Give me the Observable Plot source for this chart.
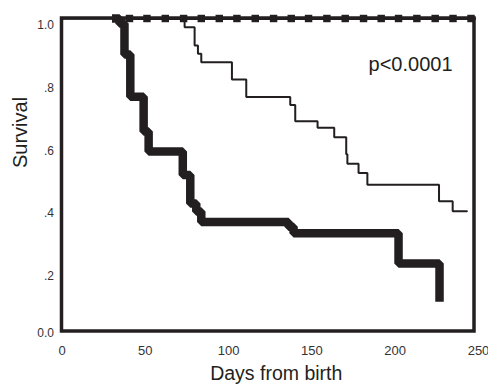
<!DOCTYPE html>
<html><head><meta charset="utf-8">
<script src="https://cdn.jsdelivr.net/npm/d3@7"></script>
<script src="https://cdn.jsdelivr.net/npm/@observablehq/plot@0.6"></script>
<style>body{margin:0;background:#fff;}</style>
</head><body><div id="chart"></div>
<script>
// Tick values
const xTicks = [0, 50, 100, 150, 200, 250];
const yTicks = [0.2, 0.4, 0.6, 0.8, 1.0];
const yTickZero = [0];
const frameEndDay = 247.6;

// Thick curve (step-after: day at which survival becomes value)
const thickDays = [30, 34.5, 37.5, 41, 49, 52, 72.5, 77, 80.6, 83.6, 136, 139, 202, 226.6];
const thickSurv = [1.0, 0.984, 0.885, 0.75, 0.639, 0.575, 0.50, 0.409, 0.383, 0.35, 0.335, 0.314, 0.217, 0.095];

// Thin curve
const thinDays = [0, 73.6, 79.6, 81.6, 83.6, 102, 110.6, 137, 140, 153.4, 163.4, 170.6, 171.3, 178, 183.3, 226.3, 234.5, 243];
const thinSurv = [1, 0.972, 0.914, 0.887, 0.860, 0.805, 0.749, 0.724, 0.672, 0.651, 0.621, 0.566, 0.536, 0.506, 0.469, 0.416, 0.384, 0.384];

// Flat curve at 1.0 with censor squares
const flatDays = [40.5, 247.6];
const flatSurv = [1, 1];
const censorDays = [40.5, 51, 62, 73, 83.6, 94.4, 105, 116, 127, 137.6, 148, 159, 170, 181, 191.6, 202, 213, 224, 234.7, 245.5];

// Annotation
const pLabel = ["p<0.0001"];
const pDay = [209.2];
const pSurv = [0.832];

const ink = "#231f20";
const thick = thickDays.map((d, i) => ({day: d, s: thickSurv[i]}));
const thin = thinDays.map((d, i) => ({day: d, s: thinSurv[i]}));
const flat = flatDays.map((d, i) => ({day: d, s: flatSurv[i]}));
const censor = censorDays.map(d => ({day: d, s: 1}));
const ann = pLabel.map((t, i) => ({t, day: pDay[i], s: pSurv[i]}));
const fmt = d => d === 0 ? "0.0" : d === 1 ? "1.0" : d3.format(".1f")(d).replace(/^0/, "");

const chart = Plot.plot({
  width: 488, height: 384,
  marginLeft: 61.5, marginRight: 10, marginTop: 18, marginBottom: 53,
  x: {domain: [0, 250]},
  y: {domain: [0, 1]},
  style: {fontFamily: "'Liberation Sans', Arial, sans-serif", background: "white", color: ink},
  marks: [
    Plot.axisX({ticks: xTicks, tickSize: 0, tickPadding: 14, fontSize: 13, label: null, fill: "#333"}),
    Plot.axisY({ticks: yTicks, tickSize: 0, tickPadding: 8, fontSize: 12, dy: 7, tickFormat: fmt, label: null, fill: "#333"}),
    Plot.axisY({ticks: yTickZero, tickSize: 0, tickPadding: 8, fontSize: 12, dy: 1.5, tickFormat: fmt, label: null, fill: "#333"}),
    Plot.text(["Survival"], {frameAnchor: "left", rotate: -90, dx: -34.8, dy: -7, lineAnchor: "bottom", fontSize: 20, fill: ink}),
    Plot.text(["Days from birth"], {frameAnchor: "bottom", dx: 6, dy: 48.3, lineAnchor: "bottom", fontSize: 19.5, fill: ink}),
    Plot.rect([{x1: 0, x2: frameEndDay, y1: 0, y2: 1}], {x1: "x1", x2: "x2", y1: "y1", y2: "y2", fill: "none", stroke: ink, strokeWidth: 3.5}),
    Plot.line(flat, {x: "day", y: "s", stroke: ink, strokeWidth: 3}),
    Plot.dot(censor, {x: "day", y: "s", symbol: "square", r: 4.2, fill: ink, stroke: "none"}),
    Plot.line(thin, {x: "day", y: "s", curve: "step-after", stroke: ink, strokeWidth: 2, strokeLinejoin: "miter"}),
    Plot.line(thick, {x: "day", y: "s", curve: "step-after", stroke: ink, strokeWidth: 8.5, strokeLinejoin: "miter", strokeLinecap: "butt"}),
    Plot.text(ann, {x: "day", y: "s", text: "t", lineAnchor: "bottom", fontSize: 20, fill: ink})
  ]
});
document.getElementById("chart").appendChild(chart);
</script>
</body></html>
